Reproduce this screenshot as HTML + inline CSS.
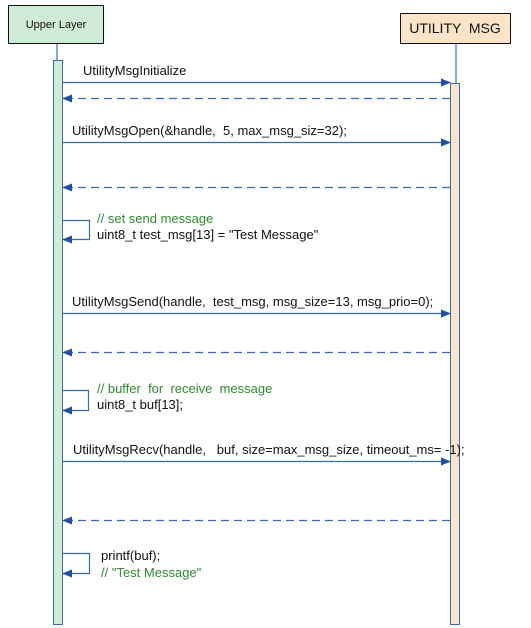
<!DOCTYPE html>
<html><head><style>body{margin:0;background:#fff}svg{display:block}text{font-family:"Liberation Sans",Arial,sans-serif;font-size:13px;fill:#111;white-space:pre}.g{fill:#2e8b2e}</style></head><body>
<svg width="531" height="628" viewBox="0 0 531 628" xml:space="preserve">
<defs><marker id="a" markerWidth="10" markerHeight="8" refX="9" refY="4" orient="auto" markerUnits="userSpaceOnUse"><path d="M0,0 L10,4 L0,8 z" fill="#1f4fa8"/></marker></defs>
<g stroke="#4a77c4" stroke-width="1.3">
<line x1="57" y1="43" x2="57" y2="60"/><line x1="456" y1="43" x2="456" y2="83"/>
</g>
<rect x="8.5" y="5.5" width="95" height="38" fill="#d1ecd6" stroke="#111"/>
<text x="56" y="28" text-anchor="middle" style="font-size:11px">Upper Layer</text>
<rect x="400.5" y="13.5" width="110" height="30" fill="#fde3c8" stroke="#111"/>
<text x="455" y="33" text-anchor="middle" style="font-size:14px">UTILITY  MSG</text>
<rect x="53.5" y="60.5" width="9" height="564" fill="#d1ecd6" stroke="#3a67b8"/>
<rect x="450.5" y="83.5" width="9" height="541" fill="#fde3c8" stroke="#3a67b8"/>
<g stroke="#3a67b8" stroke-width="1.2" fill="none">
<line x1="62" y1="82.5" x2="450" y2="82.5" marker-end="url(#a)"/>
<line x1="450" y1="98.5" x2="63" y2="98.5" stroke-dasharray="8,5" marker-end="url(#a)"/>
<line x1="62" y1="142.5" x2="450" y2="142.5" marker-end="url(#a)"/>
<line x1="450" y1="187.5" x2="63" y2="187.5" stroke-dasharray="8,5" marker-end="url(#a)"/>
<polyline points="63,220.5 89.5,220.5 89.5,239.5 63,239.5" marker-end="url(#a)"/>
<line x1="62" y1="313.5" x2="450" y2="313.5" marker-end="url(#a)"/>
<line x1="450" y1="352.5" x2="63" y2="352.5" stroke-dasharray="8,5" marker-end="url(#a)"/>
<polyline points="63,390.5 88.5,390.5 88.5,410.5 63,410.5" marker-end="url(#a)"/>
<line x1="62" y1="461.5" x2="450" y2="461.5" marker-end="url(#a)"/>
<line x1="450" y1="520.5" x2="63" y2="520.5" stroke-dasharray="8,5" marker-end="url(#a)"/>
<polyline points="63,553.5 89.5,553.5 89.5,573.5 63,573.5" marker-end="url(#a)"/>
</g>
<text x="83" y="75">UtilityMsgInitialize</text>
<text x="72" y="135">UtilityMsgOpen(&amp;handle,  5, max_msg_siz=32);</text>
<text x="97" y="223" class="g">// set send message</text>
<text x="97" y="239">uint8_t test_msg[13] = "Test Message"</text>
<text x="72" y="306">UtilityMsgSend(handle,  test_msg, msg_size=13, msg_prio=0);</text>
<text x="97" y="393" class="g">// buffer  for  receive  message</text>
<text x="97" y="409">uint8_t buf[13];</text>
<text x="73" y="454">UtilityMsgRecv(handle,   buf, size=max_msg_size, timeout_ms= -1);</text>
<text x="101" y="560">printf(buf);</text>
<text x="101" y="577" class="g">// "Test Message"</text>
</svg>
</body></html>
